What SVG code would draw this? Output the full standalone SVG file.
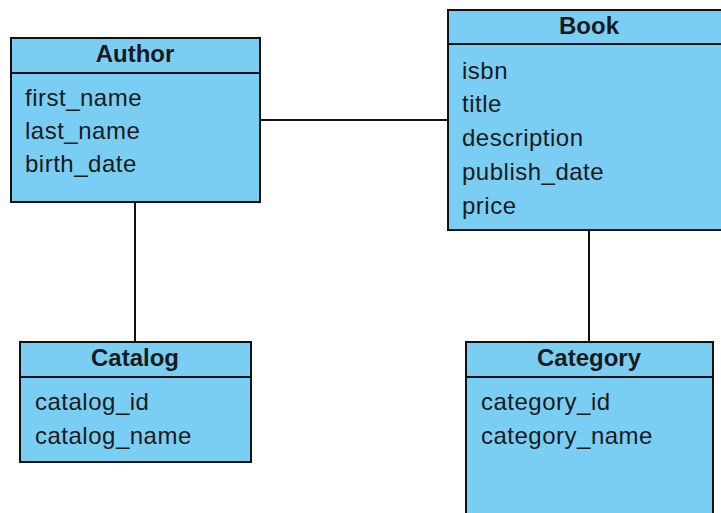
<svg xmlns="http://www.w3.org/2000/svg" width="721" height="513" viewBox="0 0 721 513">
<style>
.box{fill:#7ACEF4;stroke:#111;stroke-width:2}
.sep{stroke:#111;stroke-width:2}
.title{font-family:"Liberation Sans",Arial,sans-serif;font-size:24px;font-weight:bold;fill:#1a1a1a;text-anchor:middle}
.attr{font-family:"Liberation Sans",Arial,sans-serif;font-size:24px;letter-spacing:0.5px;fill:#1a1a1a}
.conn{stroke:#111;stroke-width:2;fill:none}
</style>
<rect width="721" height="513" fill="#fff"/>
<g id="connectors">
<line class="conn" x1="260" y1="120" x2="448" y2="120"/>
<line class="conn" x1="135" y1="202" x2="135" y2="342"/>
<line class="conn" x1="589" y1="230" x2="589" y2="342"/>
</g>
<g id="author">
<rect class="box" x="11" y="38" width="249" height="164"/>
<line class="sep" x1="11" y1="73" x2="260" y2="73"/>
<text class="title" x="135" y="62">Author</text>
<text class="attr" x="25" y="106">first_name</text>
<text class="attr" x="25" y="139">last_name</text>
<text class="attr" x="25" y="172">birth_date</text>
</g>
<g id="book">
<rect class="box" x="448" y="10" width="280" height="220"/>
<line class="sep" x1="448" y1="44" x2="728" y2="44"/>
<text class="title" x="589" y="34">Book</text>
<text class="attr" x="462" y="79">isbn</text>
<text class="attr" x="462" y="112">title</text>
<text class="attr" x="462" y="146">description</text>
<text class="attr" x="462" y="180">publish_date</text>
<text class="attr" x="462" y="214">price</text>
</g>
<g id="catalog">
<rect class="box" x="20" y="342" width="231" height="120"/>
<line class="sep" x1="20" y1="377" x2="251" y2="377"/>
<text class="title" x="135" y="366">Catalog</text>
<text class="attr" x="35" y="410">catalog_id</text>
<text class="attr" x="35" y="444">catalog_name</text>
</g>
<g id="category">
<rect class="box" x="466" y="342" width="247" height="180"/>
<line class="sep" x1="466" y1="377" x2="713" y2="377"/>
<text class="title" x="589" y="366">Category</text>
<text class="attr" x="481" y="410">category_id</text>
<text class="attr" x="481" y="444">category_name</text>
</g>
</svg>
